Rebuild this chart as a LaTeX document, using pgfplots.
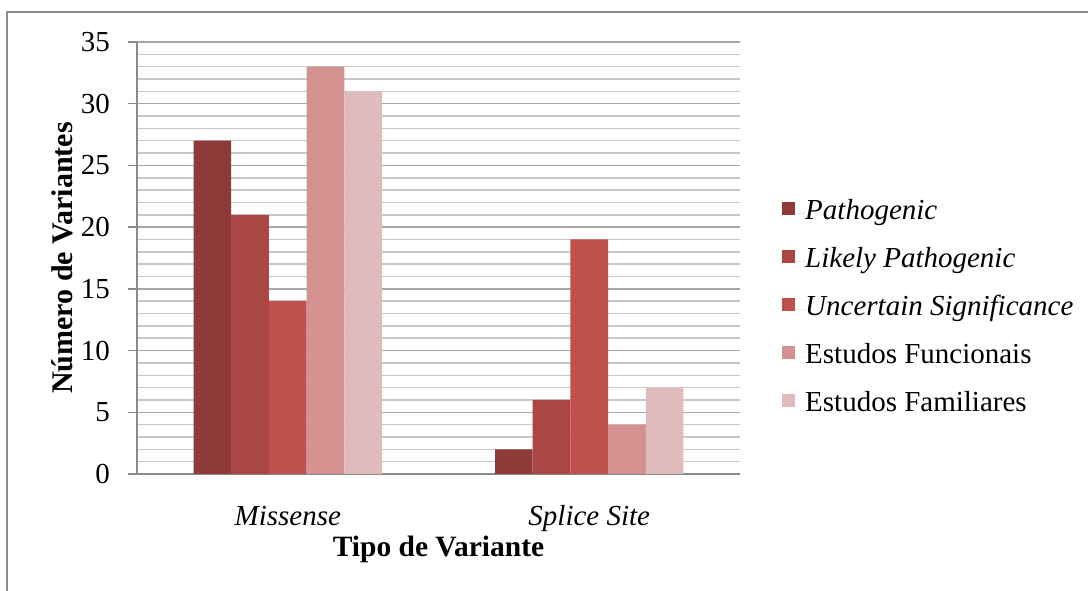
\documentclass[border=0pt]{standalone}
\usepackage{pgfplots}
\pgfplotsset{compat=1.18}
\usepackage{fontspec}
\setmainfont{Liberation Serif}[ItalicFont={Liberation Serif Italic},BoldFont={Liberation Serif Bold}]
\definecolor{c1}{HTML}{8E3A39}
\definecolor{c2}{HTML}{AA4644}
\definecolor{c3}{HTML}{C0504D}
\definecolor{c4}{HTML}{D39190}
\definecolor{c5}{HTML}{E0BBBB}
\definecolor{frame}{HTML}{8A8A8A}
\definecolor{majgrid}{HTML}{A6A6A6}
\definecolor{mingrid}{HTML}{C8C8C8}
\begin{document}
\begin{tikzpicture}[x=1pt,y=1pt]
\useasboundingbox (0,0) rectangle (1088,591);
\draw[frame,line width=1.5pt] (7,0) -- (7,579) -- (1088,579);
\begin{axis}[
  at={(137pt,117pt)}, anchor=south west,
  scale only axis, width=603pt, height=432pt,
  xmin=-0.5, xmax=1.5, ymin=0, ymax=35,
  xtick={0,1}, xticklabels={\textit{Missense},\textit{Splice Site}},
  ytick={0,5,...,35},
  minor y tick num=4,
  ymajorgrids, yminorgrids,
  major grid style={majgrid,line width=1.5pt},
  minor grid style={mingrid,line width=1.5pt},
  axis x line*=bottom, axis y line*=left,
  axis line style={frame,line width=2pt,-},
  tick align=outside,
  major tick length=9pt, minor tick length=0pt,
  x tick style={draw=none},
  y tick style={frame,line width=1.5pt},
  /pgf/number format/assume math mode=true,
  tick label style={font=\fontsize{29}{30}\selectfont},
  yticklabel style={anchor=east, inner sep=0pt, xshift=-18pt},
  xticklabel style={anchor=base, inner sep=0pt, yshift=-43pt},
  every axis x label/.style={at={(axis description cs:0.5,-0.1736)}, anchor=center, font=\fontsize{29.5}{30}\selectfont\bfseries},
  every axis y label/.style={at={(axis description cs:-0.1244,0.5)}, rotate=90, anchor=center, font=\fontsize{30}{30}\selectfont\bfseries},
  xlabel={Tipo de Variante},
  ylabel={Número de Variantes},
  ybar, bar width=0.125,
  legend style={at={(axis description cs:1.0697,0.381)}, anchor=west, draw=none, fill=none,
    font=\fontsize{29}{31}\selectfont, inner sep=0pt, row sep=22pt,
    nodes={text height=19pt, text depth=7pt, inner sep=0pt}},
  legend cell align=left,
  legend image code/.code={\fill[#1] (0pt,-1.5pt) rectangle (13pt,11.5pt); \path (0pt,0pt) -- (23pt,0pt);},
]
\addplot[fill=c1, draw=none, bar shift=-0.25] coordinates {(0,27) (1,2)};
\addplot[fill=c2, draw=none, bar shift=-0.125] coordinates {(0,21) (1,6)};
\addplot[fill=c3, draw=none, bar shift=0] coordinates {(0,14) (1,19)};
\addplot[fill=c4, draw=none, bar shift=0.125] coordinates {(0,33) (1,4)};
\addplot[fill=c5, draw=none, bar shift=0.25] coordinates {(0,31) (1,7)};
\legend{\textit{Pathogenic},\textit{Likely Pathogenic},\textit{Uncertain Significance},Estudos Funcionais,Estudos Familiares}
\end{axis}
\end{tikzpicture}
\end{document}
